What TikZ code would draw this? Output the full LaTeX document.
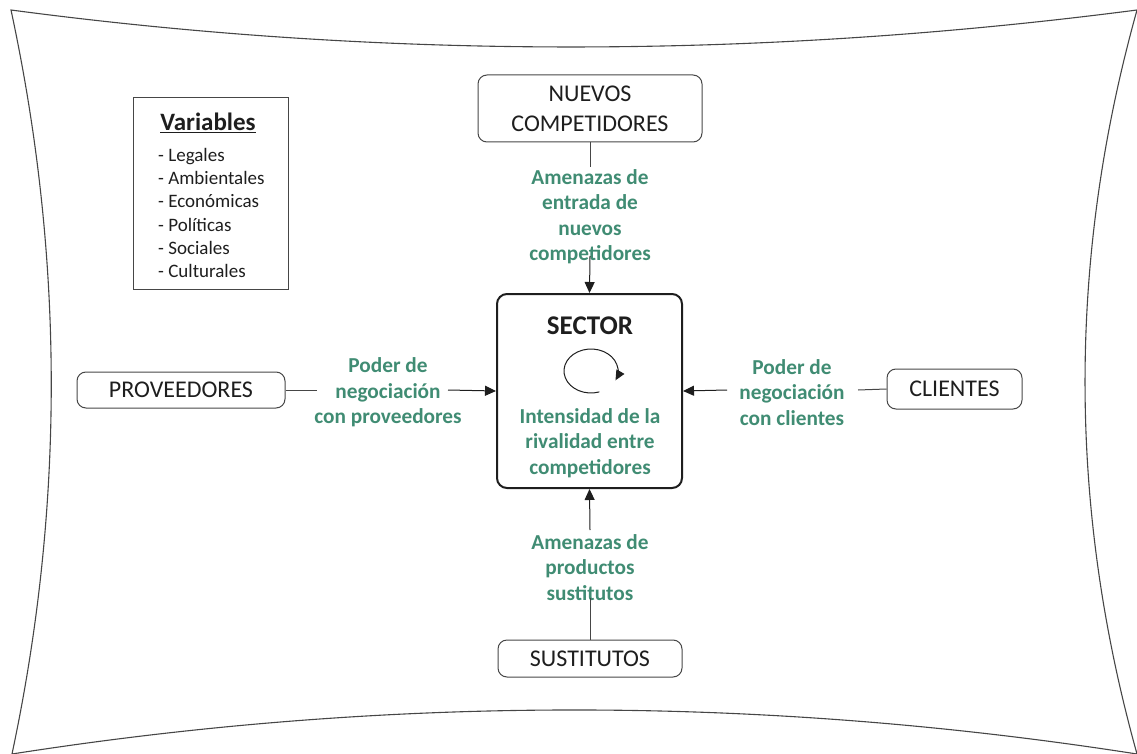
\documentclass[tikz,border=0pt]{standalone}
\usepackage{fontspec}
\setmainfont{Carlito}
\usetikzlibrary{arrows.meta}
\definecolor{forcegreen}{RGB}{64,140,115}
\definecolor{ink}{RGB}{30,30,30}
\definecolor{rim}{RGB}{70,70,70}
\begin{document}
\begin{tikzpicture}[x=1pt,y=-1pt,
  rbox/.style={draw=rim, line width=1pt, rounded corners=9pt, inner sep=0pt,
    text=ink, align=center, font=\fontsize{24}{30}\selectfont},
  force/.style={text=forcegreen, align=center, inner sep=0pt,
    font=\fontsize{21.3}{25.5}\selectfont\bfseries},
  link/.style={draw=rim, line width=1pt},
  push/.style={draw=ink, line width=1pt, -{Triangle[length=11pt,width=10pt]}}]
\useasboundingbox (0,0) rectangle (1137,754);

% outer curved frame (each side a gently bowed curve)
\draw[rim, line width=1.1pt]
  (11,10) .. controls (382.3,59.3) and (757.7,59.3) .. (1137,10)
  .. controls (1067.7,258) and (1067.7,506) .. (1137,754)
  .. controls (761.7,695.3) and (386.7,695.3) .. (12,754)
  .. controls (64.7,506) and (64.3,258) .. cycle;

% legend of variables
\node[draw=rim, line width=1pt, minimum width=155pt, minimum height=191pt, inner sep=0pt]
  (vars) at (210.5,193.5) {};
\node[text=ink, font=\fontsize{25}{30}\selectfont\bfseries] (varstitle) at (208,123) {\underline{Variables}};
\node[text=ink, anchor=west, align=left, inner sep=0pt, font=\fontsize{19}{23.3}\selectfont]
  (varslist) at (158,213) {- Legales\\- Ambientales\\- Económicas\\- Políticas\\- Sociales\\- Culturales};

% the five forces
\node[rbox, minimum width=224pt, minimum height=67pt] (nuevos) at (590,108.5) {NUEVOS\\COMPETIDORES};
\node[draw=ink, line width=2pt, rounded corners=10pt, minimum width=185pt, minimum height=194pt]
  (sector) at (589.5,391) {};
\node[rbox, minimum width=208pt, minimum height=36pt] (prov) at (181,390) {PROVEEDORES};
\node[rbox, minimum width=135pt, minimum height=40pt] (clientes) at (954.5,389) {CLIENTES};
\node[rbox, minimum width=184pt, minimum height=37pt] (sust) at (590,658.5) {SUSTITUTOS};

% content of the sector box
\node[text=ink, font=\fontsize{27}{30}\selectfont\bfseries] (sectortitle) at (590,326) {SECTOR};
\coordinate (spin) at (591,371);
\draw[ink, line width=1pt, -{Triangle[length=10pt,width=9pt]}]
  (spin) ++(-72:27pt and 22pt) arc[start angle=-72, end angle=-385, x radius=27pt, y radius=22pt];
\node[force] (rivalidad) at (590,443) {Intensidad de la\\rivalidad entre\\competidores};

% force labels
\node[force] (entrada) at (590,216.5) {Amenazas de\\entrada de\\nuevos\\competidores};
\node[force] (negprov) at (388,392.5) {Poder de\\negociación\\con proveedores};
\node[force] (negcli) at (792,392.5) {Poder de\\negociación\\con clientes};
\node[force] (sustitutos) at (590,567.5) {Amenazas de\\productos\\sustitutos};

% connector ends around the labels
\coordinate (topA) at (590,167);
\coordinate (topB) at (590,256);
\coordinate (leftA) at (317,390);
\coordinate (leftB) at (448,390);
\coordinate (rightA) at (858,390);
\coordinate (rightB) at (727,390);
\coordinate (botA) at (590,598);
\coordinate (botB) at (590,530);

% connectors
\draw[link] (nuevos.south) -- (topA);
\draw[push] (topB) -- (sector.north);
\draw[link] (prov.east) -- (leftA);
\draw[push] (leftB) -- (sector.west);
\draw[link] (clientes.west) -- (rightA);
\draw[push] (rightB) -- (sector.east);
\draw[link] (sust.north) -- (botA);
\draw[push] (botB) -- (sector.south);
\end{tikzpicture}
\end{document}
